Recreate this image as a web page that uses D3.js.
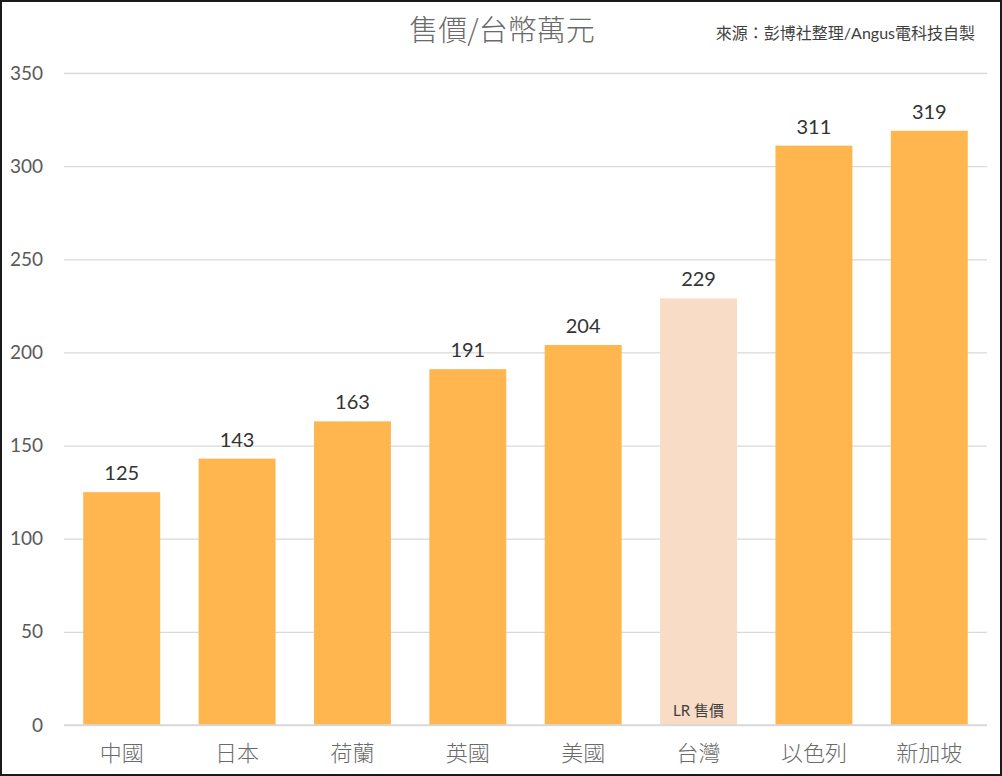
<html>
<head>
<meta charset="utf-8">
<script src="https://d3js.org/d3.v7.min.js"></script>
<style>
  body { margin: 0; background: #fff; }
  text { font-family: Lato, "Noto Sans CJK TC", sans-serif; }
</style>
</head>
<body>
<svg id="chart" width="1002" height="776"></svg>
<script>
  // data
  const countries = ["中國", "日本", "荷蘭", "英國", "美國", "台灣", "以色列", "新加坡"];
  const prices = [125, 143, 163, 191, 204, 229, 311, 319];
  const yTicks = [0, 50, 100, 150, 200, 250, 300, 350];
  const highlight = "台灣";

  let svg = d3.select("svg#chart");
  const width = +svg.attr("width");
  const height = +svg.attr("height");

  // frame around the whole picture
  svg.append("rect")
    .attr("x", 1).attr("y", 1)
    .attr("width", width - 2).attr("height", height - 2)
    .attr("fill", "white").attr("stroke", "#1a1a1a").attr("stroke-width", 2);

  let xScale = d3.scaleBand()
    .domain(countries)
    .range([64, 987])
    .paddingInner(0.333)
    .paddingOuter(0.1667);

  let yScale = d3.scaleLinear()
    .domain([0, 350])
    .range([725, 73]);

  // gridlines
  let grid = d3.axisLeft(yScale).tickValues(yTicks).tickSize(-(987 - 64)).tickFormat("");
  svg.append("g")
    .attr("transform", "translate(64,0)")
    .call(grid)
    .call(g => g.select(".domain").remove())
    .selectAll("line").attr("stroke", "#d9d9d9").attr("stroke-width", 1.3);

  // y labels
  let leftAxis = d3.axisLeft(yScale).tickValues(yTicks).tickSize(0).tickPadding(21);
  svg.append("g")
    .attr("transform", "translate(64,0)")
    .call(leftAxis)
    .call(g => g.select(".domain").remove())
    .selectAll("text")
    .attr("fill", "#595959").style("font-size", "19px")
    .style("font-family", "Lato, sans-serif");

  // bars
  svg.selectAll("rect.bar")
    .data(countries)
    .enter().append("rect")
    .attr("class", "bar")
    .attr("x", d => xScale(d))
    .attr("y", (d, i) => yScale(prices[i]))
    .attr("width", xScale.bandwidth())
    .attr("height", (d, i) => yScale(0) - yScale(prices[i]))
    .attr("fill", d => d === highlight ? "#f9dcc6" : "#ffb64e");

  // x axis line
  svg.append("line")
    .attr("x1", 64).attr("x2", 987)
    .attr("y1", yScale(0)).attr("y2", yScale(0))
    .attr("stroke", "#d9d9d9").attr("stroke-width", 1.3);

  // value labels
  svg.selectAll("text.val")
    .data(countries)
    .enter().append("text")
    .attr("class", "val")
    .attr("x", d => xScale(d) + xScale.bandwidth() / 2)
    .attr("y", (d, i) => yScale(prices[i]) - 12)
    .attr("text-anchor", "middle")
    .attr("fill", "#333")
    .style("font-size", "20px")
    .text((d, i) => prices[i]);

  // category labels (thin, light grey)
  let bottomAxis = d3.axisBottom(xScale).tickSize(0).tickPadding(20);
  svg.append("g")
    .attr("transform", "translate(0," + yScale(0) + ")")
    .call(bottomAxis)
    .call(g => g.select(".domain").remove())
    .selectAll("text")
    .attr("fill", "#6a6a6a").style("font-size", "22px")
    .style("font-weight", "300")
    .style("font-family", "'Noto Sans CJK TC', sans-serif");

  // note inside the Taiwan bar
  svg.append("text")
    .attr("x", xScale(highlight) + xScale.bandwidth() / 2)
    .attr("y", yScale(0) - 9)
    .attr("text-anchor", "middle")
    .attr("fill", "#404040")
    .style("font-size", "15px")
    .text("LR 售價");

  // title
  svg.append("text")
    .attr("x", 502).attr("y", 41)
    .attr("text-anchor", "middle")
    .attr("fill", "#6a6a6a")
    .style("font-size", "29px")
    .style("font-weight", "300")
    .style("font-family", "'Noto Sans CJK TC', sans-serif")
    .text("售價/台幣萬元");

  // source
  svg.append("text")
    .attr("x", 975).attr("y", 39)
    .attr("text-anchor", "end")
    .attr("fill", "#404040")
    .style("font-size", "16px")
    .text("來源：彭博社整理/Angus電科技自製");
</script>
</body>
</html>
